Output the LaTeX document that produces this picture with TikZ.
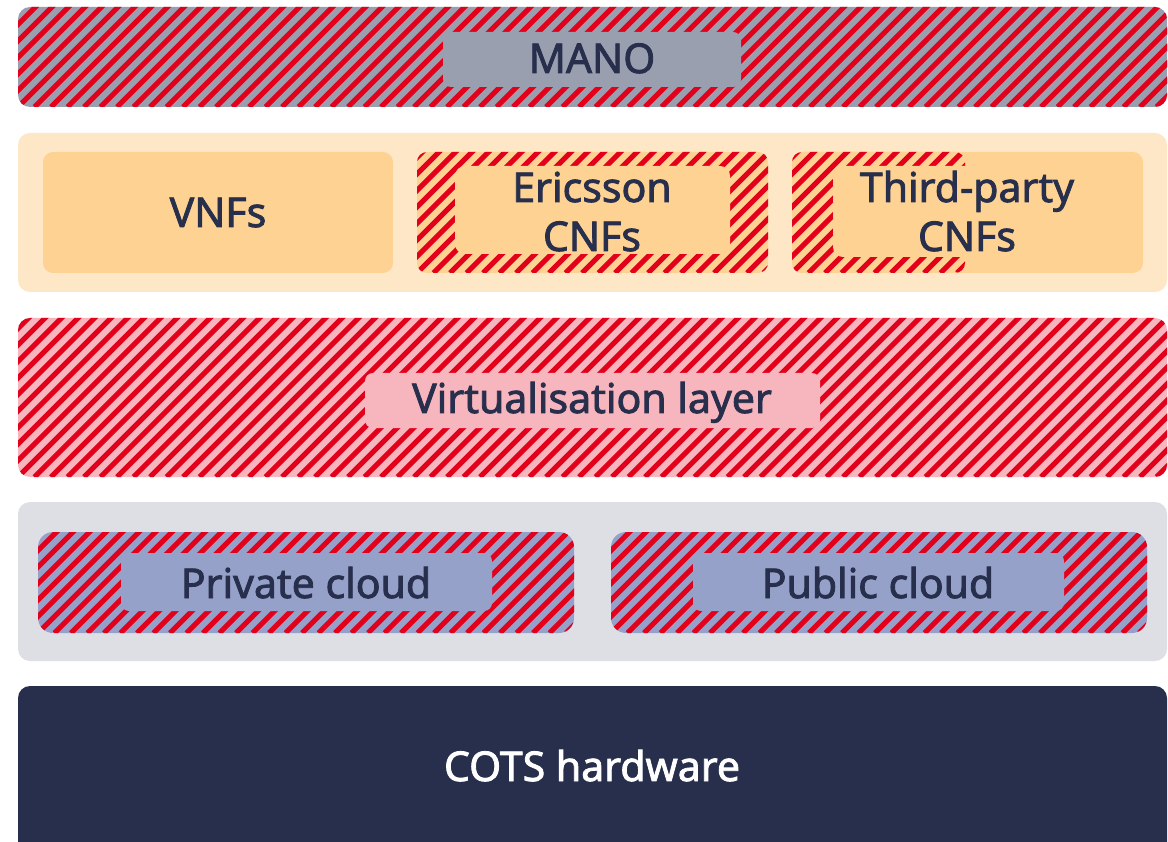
\documentclass[tikz,border=0pt]{standalone}
\usepackage{fontspec}
\newfontfamily\lblfont{Noto Sans}[FakeBold=2]
\definecolor{navy}{HTML}{272F4C}
\definecolor{hred}{HTML}{E3001B}
\definecolor{manogray}{HTML}{9A9FB0}
\definecolor{peachlight}{HTML}{FEE7C7}
\definecolor{peach}{HTML}{FED292}
\definecolor{pinkbg}{HTML}{F7B5BD}
\definecolor{cloudgray}{HTML}{DEDFE4}
\definecolor{cloudblue}{HTML}{96A1CA}
\tikzset{
  panel/.style={rectangle, rounded corners=12pt, inner sep=0pt, outer sep=0pt},
  patch/.style={rectangle, rounded corners=8pt, inner sep=0pt, outer sep=0pt},
  hatched/.style={path picture={
    \foreach \k in {-14,...,72}
      \draw[hred, line width=5.2pt]
        ([xshift=\k*16.5pt]path picture bounding box.south west) -- ++(220pt,220pt);
  }},
  lbl/.style={font=\lblfont\fontsize{41}{48}\selectfont, text=navy, inner sep=0pt, anchor=base},
}
\begin{document}
\begin{tikzpicture}[x=1pt, y=-1pt]
  \useasboundingbox (0,0) rectangle (1168,842);
  \clip (0,0) rectangle (1168,842);
  \fill[white] (0,0) rectangle (1168,842);

  % MANO
  \node[panel, hatched, fill=manogray, minimum width=1149pt, minimum height=100pt] (mano) at (592.5,57) {};
  \node[patch, fill=manogray, minimum width=298pt, minimum height=55pt] (manopatch) at (592,59.5) {};
  \node[lbl] (manotxt) at (592,73) {MANO};

  % network functions
  \node[panel, fill=peachlight, minimum width=1149pt, minimum height=159pt] (nf) at (592.5,212.5) {};
  \node[panel, rounded corners=10pt, fill=peach, minimum width=350pt, minimum height=121pt] (vnf) at (218,212.5) {};
  \node[lbl] (vnftxt) at (218,227) {VNFs};

  \node[panel, rounded corners=10pt, hatched, fill=peach, minimum width=351pt, minimum height=121pt] (eric) at (592.5,212.5) {};
  \node[patch, rounded corners=10pt, fill=peach, minimum width=275pt, minimum height=88pt] (ericpatch) at (592.5,210) {};
  \node[lbl] (ericA) at (592,202) {Ericsson};
  \node[lbl] (ericB) at (592,251) {CNFs};

  \node[panel, rounded corners=10pt, fill=peach, minimum width=351pt, minimum height=121pt] (third) at (967.5,212.5) {};
  \node[panel, rounded corners=10pt, hatched, fill=peach, minimum width=173pt, minimum height=121pt] (thirdhatch) at (878.5,212.5) {};
  \node[patch, rounded corners=10pt, fill=peach, minimum width=267pt, minimum height=91pt] (thirdpatch) at (966.5,211.5) {};
  \node[lbl] (thirdA) at (967,202) {Third-party};
  \node[lbl] (thirdB) at (967,251) {CNFs};

  % virtualisation layer
  \node[panel, hatched, fill=pinkbg, minimum width=1149pt, minimum height=159pt] (virt) at (592.5,397.5) {};
  \node[patch, fill=pinkbg, minimum width=455pt, minimum height=55pt] (virtpatch) at (592.5,400.5) {};
  \node[lbl] (virttxt) at (592,413) {Virtualisation layer};

  % clouds
  \node[panel, fill=cloudgray, minimum width=1149pt, minimum height=159pt] (clouds) at (592.5,581.5) {};
  \node[panel, rounded corners=15pt, hatched, fill=cloudblue, minimum width=536pt, minimum height=101pt] (priv) at (306,582.5) {};
  \node[patch, fill=cloudblue, minimum width=371pt, minimum height=58pt] (privpatch) at (306.5,582) {};
  \node[lbl] (privtxt) at (306,598) {Private cloud};
  \node[panel, rounded corners=15pt, hatched, fill=cloudblue, minimum width=536pt, minimum height=101pt] (pub) at (879,582.5) {};
  \node[patch, fill=cloudblue, minimum width=371pt, minimum height=58pt] (pubpatch) at (878.5,582) {};
  \node[lbl] (pubtxt) at (878,598) {Public cloud};

  % hardware
  \node[panel, fill=navy, minimum width=1149pt, minimum height=184pt] (cots) at (592.5,778) {};
  \node[lbl, text=white] (cotstxt) at (592,781) {COTS hardware};
\end{tikzpicture}
\end{document}
